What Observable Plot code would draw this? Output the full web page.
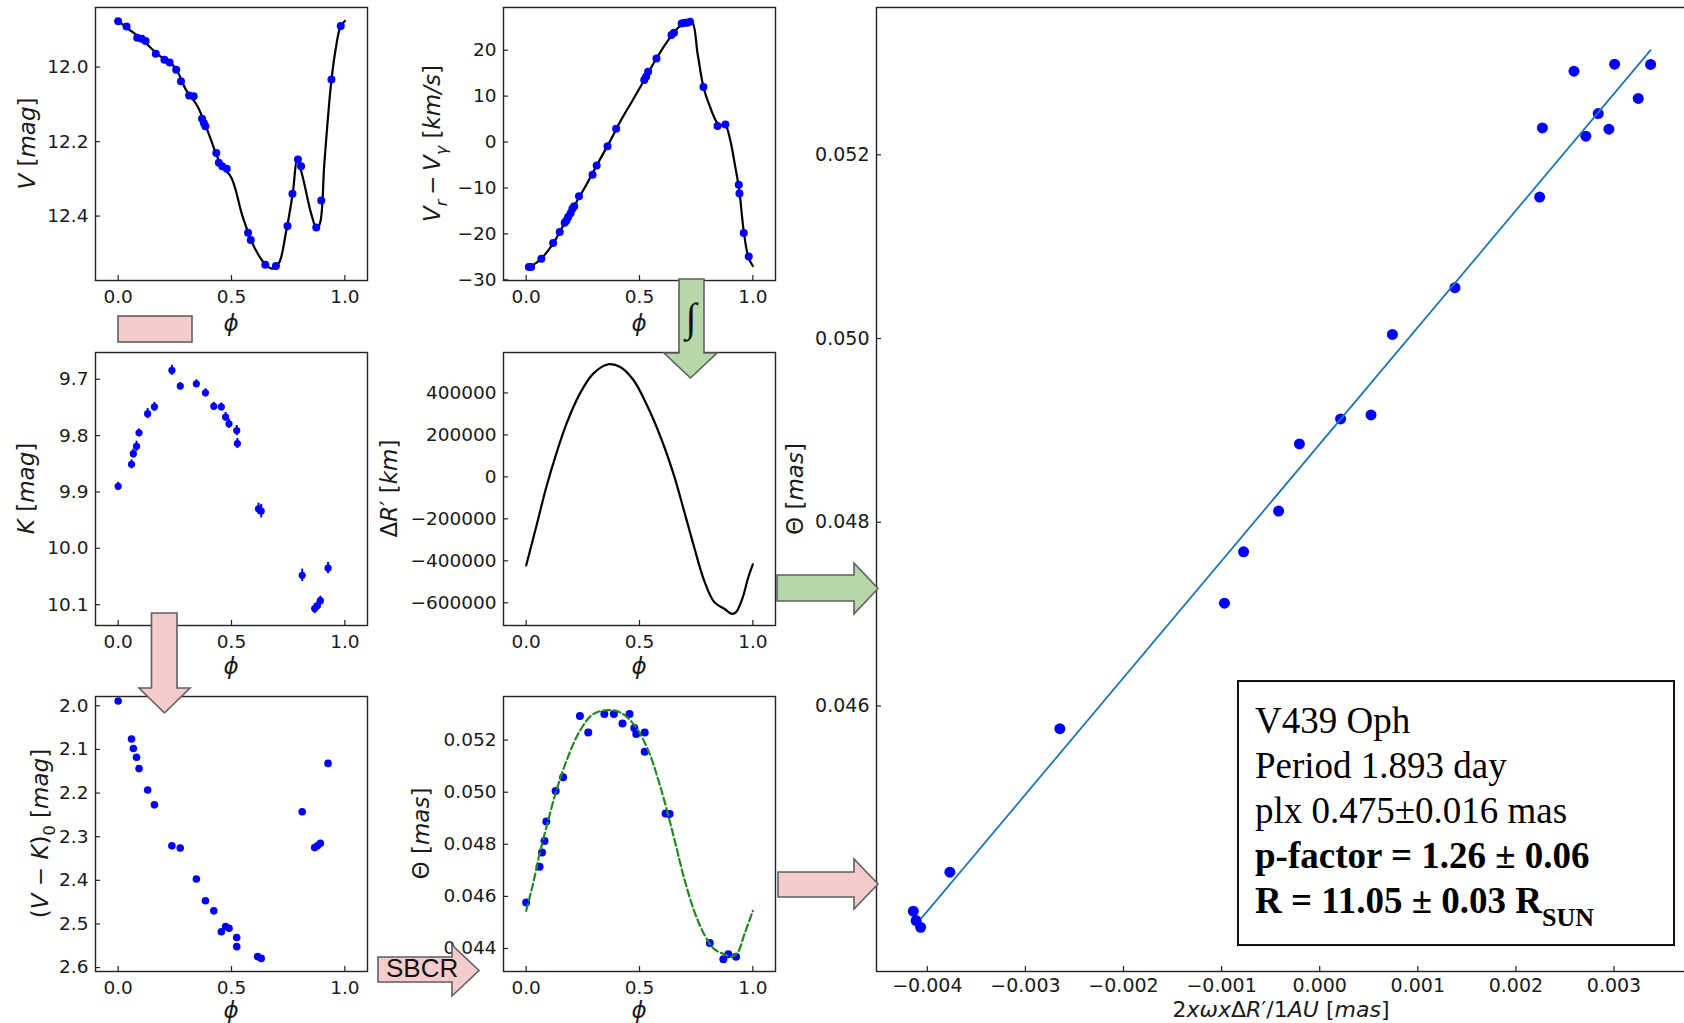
<!DOCTYPE html>
<html><head><meta charset="utf-8">
<script src="https://cdn.jsdelivr.net/npm/d3@7"></script>
<script src="https://cdn.jsdelivr.net/npm/@observablehq/plot@0.6"></script>
<style>
html,body{margin:0;padding:0;background:#fff;overflow:hidden;}
#fig{position:relative;width:1684px;height:1023px;overflow:hidden;background:#fff;}
#fig svg{position:absolute;max-width:none;}
</style></head><body><div id="fig"></div>
<script>
// ---------- data ----------
// V light curve
const phaseV = [0.000,0.037,0.084,0.104,0.121,0.166,0.204,0.227,0.256,0.277,0.313,0.333,0.370,0.378,0.385,0.433,0.444,0.459,0.479,0.573,0.585,0.649,0.696,0.747,0.769,0.793,0.807,0.874,0.896,0.941,0.982];
const magV = [11.877,11.891,11.921,11.924,11.930,11.964,11.980,11.988,12.007,12.038,12.076,12.078,12.139,12.150,12.159,12.231,12.257,12.266,12.273,12.445,12.464,12.531,12.534,12.427,12.340,12.248,12.266,12.431,12.358,12.033,11.890];
const phaseVfit = [0,0.05,0.1,0.15,0.2,0.25,0.3,0.35,0.4,0.45,0.5,0.55,0.6,0.65,0.68,0.71,0.74,0.77,0.79,0.81,0.85,0.875,0.89,0.91,0.94,0.96,0.98,1.0];
const magVfit = [11.876,11.900,11.922,11.952,11.978,12.000,12.062,12.105,12.180,12.258,12.298,12.403,12.483,12.530,12.541,12.525,12.445,12.340,12.250,12.285,12.390,12.432,12.420,12.255,12.040,11.950,11.893,11.876];
// radial velocity
const phaseVr = [0.012,0.022,0.067,0.119,0.148,0.170,0.178,0.185,0.196,0.204,0.212,0.233,0.293,0.311,0.359,0.397,0.521,0.529,0.538,0.575,0.641,0.652,0.686,0.699,0.711,0.723,0.782,0.844,0.879,0.938,0.941,0.960,0.982];
const vr = [-27.2,-27.2,-25.4,-22.0,-19.6,-17.6,-17.1,-16.3,-15.5,-14.5,-14.0,-11.8,-7.1,-5.1,-0.9,2.9,13.5,14.2,15.3,18.2,23.3,23.8,25.8,26.0,26.0,26.2,12.0,3.5,3.8,-9.3,-11.2,-19.8,-24.9];
const phaseVrFit = [0,0.03,0.07,0.12,0.17,0.22,0.27,0.32,0.37,0.42,0.47,0.52,0.57,0.62,0.67,0.70,0.73,0.757,0.782,0.81,0.84,0.86,0.88,0.90,0.92,0.94,0.96,0.98,1.0];
const vrFit = [-27.3,-26.8,-25.2,-22.0,-17.6,-13.2,-8.9,-4.3,0.2,4.9,9.1,13.4,17.8,21.7,24.9,26.0,26.4,19.0,12.0,7.8,4.4,3.6,3.5,0.5,-4.7,-10.5,-19.5,-25.0,-27.0];
// K light curve
const phaseK = [0.000,0.059,0.067,0.081,0.092,0.130,0.160,0.237,0.274,0.345,0.385,0.422,0.455,0.474,0.489,0.523,0.526,0.619,0.631,0.812,0.867,0.879,0.892,0.926];
const magK = [9.890,9.851,9.832,9.819,9.795,9.761,9.749,9.684,9.712,9.708,9.724,9.748,9.749,9.767,9.779,9.791,9.814,9.930,9.934,10.048,10.107,10.102,10.093,10.035];
const errK = [0.007,0.008,0.008,0.009,0.007,0.009,0.008,0.009,0.006,0.007,0.007,0.007,0.007,0.008,0.008,0.009,0.009,0.010,0.012,0.011,0.009,0.008,0.008,0.010];
// integrated radius variation
const phaseDR = [0.0,0.044,0.089,0.133,0.178,0.237,0.296,0.363,0.415,0.474,0.533,0.593,0.652,0.696,0.741,0.785,0.830,0.874,0.907,0.926,0.956,0.978,1.0];
const dR = [-421900,-239000,-48300,110700,253700,396800,492200,536700,524000,460400,341200,190100,7300,-159600,-334500,-493500,-596800,-628600,-652500,-644500,-573000,-485500,-417000];
// colour index
const phaseVK = [0.000,0.059,0.067,0.081,0.092,0.130,0.160,0.237,0.274,0.345,0.385,0.422,0.455,0.474,0.489,0.523,0.523,0.615,0.631,0.812,0.867,0.879,0.892,0.926];
const vk = [1.989,2.076,2.098,2.118,2.144,2.193,2.227,2.321,2.326,2.397,2.447,2.470,2.518,2.506,2.510,2.531,2.552,2.575,2.579,2.243,2.325,2.321,2.315,2.132];
// angular diameter
const phaseTh = [0.000,0.059,0.070,0.081,0.089,0.130,0.163,0.237,0.274,0.345,0.387,0.425,0.456,0.477,0.486,0.523,0.523,0.615,0.633,0.810,0.870,0.892,0.926];
const theta = [0.04577,0.04714,0.04769,0.04813,0.04888,0.05005,0.05057,0.05293,0.05229,0.05300,0.05300,0.05264,0.05300,0.05246,0.05223,0.05229,0.05155,0.04918,0.04916,0.04421,0.04359,0.04378,0.04368];
const phaseThFit = [0.0,0.030,0.059,0.089,0.133,0.178,0.237,0.296,0.363,0.415,0.474,0.533,0.593,0.652,0.696,0.741,0.785,0.830,0.874,0.907,0.933,0.963,1.0];
const thetaFit = [0.045446,0.046470,0.047622,0.048646,0.050054,0.051206,0.052358,0.052998,0.053152,0.053062,0.052614,0.051718,0.050182,0.048262,0.046726,0.045446,0.044550,0.043974,0.043782,0.043680,0.043846,0.044550,0.045446];
// Theta vs 2 x omega x dR / 1AU
const xG = [0.003373,0.003006,0.002592,0.003247,0.002839,0.002270,0.002948,0.002713,0.002242,0.001379,0.000741,0.000213,0.000523,-0.000207,-0.000419,-0.000776,-0.000971,-0.002649,-0.003770,-0.004143,-0.004114,-0.004068];
const yG = [0.052983,0.052986,0.052910,0.052613,0.052449,0.052292,0.052278,0.052202,0.051540,0.050553,0.050044,0.049125,0.049168,0.048852,0.048122,0.047678,0.047119,0.045753,0.044191,0.043766,0.043664,0.043591];
const fitGx = [-0.004057, 0.003373];
const fitGy = [0.043693, 0.053139];
// tick values
const phaseTicks = [0, 0.5, 1.0];
const vTicks = [12.0, 12.2, 12.4];
const vrTicks = [-30, -20, -10, 0, 10, 20];
const kTicks = [9.7, 9.8, 9.9, 10.0, 10.1];
const drTicks = [-600000, -400000, -200000, 0, 200000, 400000];
const vkTicks = [2.0, 2.1, 2.2, 2.3, 2.4, 2.5, 2.6];
const thTicks = [0.044, 0.046, 0.048, 0.050, 0.052];
const gxTicks = [-0.004, -0.003, -0.002, -0.001, 0.000, 0.001, 0.002, 0.003];
const gyTicks = [0.046, 0.048, 0.050, 0.052];
const infoLines = ["V439 Oph", "Period 1.893 day", "plx 0.475±0.016 mas", "p-factor = 1.26 ± 0.06", "R = 11.05 ± 0.03 R"];

// ---------- helpers ----------
const zip = (xs, ys, kx = "x", ky = "y") => xs.map((v, i) => ({[kx]: v, [ky]: ys[i]}));
const fig = document.getElementById("fig");
const INK = "#1a1a1a";
const BLUE = "#0000ff";

function panel(o) {
  const p = Plot.plot({
    width: o.ml + o.fw + o.mr, height: o.mt + o.fh + o.mb,
    marginLeft: o.ml, marginRight: o.mr, marginTop: o.mt, marginBottom: o.mb,
    x: {domain: o.xDomain, label: null},
    y: {domain: o.yDomain, label: null},
    style: {fontFamily: "DejaVu Sans", fontSize: o.fs + "px", color: INK, background: "transparent", overflow: "visible"},
    marks: [
      ...o.marks,
      Plot.frame({stroke: "#222", strokeWidth: 1.4}),
      Plot.tickX(o.xTicks, {x: d => d, insetTop: o.fh - 5, stroke: "#222", strokeWidth: 1.2}),
      Plot.tickY(o.yTicks, {y: d => d, insetRight: o.fw - 5, stroke: "#222", strokeWidth: 1.2}),
      Plot.axisX(o.xTicks, {tickFormat: o.xFmt, tickSize: 0, tickPadding: o.padX, label: null, fill: INK}),
      Plot.axisY(o.yTicks, {tickFormat: o.yFmt, tickSize: 0, tickPadding: o.padY, label: null, fill: INK})
    ]
  });
  p.style.left = (o.fx - o.ml) + "px";
  p.style.top = (o.fy - o.mt) + "px";
  fig.appendChild(p);
}
const f1 = d3.format(".1f"), fd = d3.format("d"), f3 = d3.format(".3f");
const phaseDom = [-0.1, 1.1];
const small = {fw: 272, mr: 8, mt: 7, mb: 45, fs: 18.5, padX: 9, padY: 7, xDomain: phaseDom, xTicks: phaseTicks, xFmt: f1};

// V
panel({...small, fx: 95, fy: 7, fh: 273, ml: 95, yDomain: [12.573, 11.840], yTicks: vTicks, yFmt: f1, marks: [
  Plot.line(zip(phaseVfit, magVfit), {x: "x", y: "y", stroke: "#000", strokeWidth: 2.2, curve: "catmull-rom"}),
  Plot.dot(zip(phaseV, magV), {x: "x", y: "y", r: 4, fill: BLUE})
]});
// Vr
panel({...small, fx: 503, fy: 7, fh: 273, ml: 115, yDomain: [-30.15, 29.3], yTicks: vrTicks, yFmt: fd, marks: [
  Plot.line(zip(phaseVrFit, vrFit), {x: "x", y: "y", stroke: "#000", strokeWidth: 2.2, curve: "catmull-rom"}),
  Plot.dot(zip(phaseVr, vr), {x: "x", y: "y", r: 4, fill: BLUE})
]});
// K
const kData = phaseK.map((p, i) => ({p, k: magK[i], e: errK[i]}));
panel({...small, fx: 95, fy: 352, fh: 273, ml: 95, yDomain: [10.137, 9.6525], yTicks: kTicks, yFmt: f1, marks: [
  Plot.ruleX(kData, {x: "p", y1: d => d.k - d.e, y2: d => d.k + d.e, stroke: BLUE, strokeWidth: 2}),
  Plot.dot(kData, {x: "p", y: "k", r: 3.6, fill: BLUE})
]});
// Delta R
panel({...small, fx: 503, fy: 352, fh: 273, ml: 115, yDomain: [-708300, 592748], yTicks: drTicks, yFmt: fd, marks: [
  Plot.line(zip(phaseDR, dR), {x: "x", y: "y", stroke: "#000", strokeWidth: 2.2, curve: "catmull-rom"})
]});
// V-K
panel({...small, fx: 95, fy: 696, fh: 275, ml: 95, mb: 52, yDomain: [2.609, 1.9787], yTicks: vkTicks, yFmt: f1, marks: [
  Plot.dot(zip(phaseVK, vk), {x: "x", y: "y", r: 3.8, fill: BLUE})
]});
// Theta
panel({...small, fx: 503, fy: 696, fh: 275, ml: 115, mb: 52, yDomain: [0.043117, 0.053674], yTicks: thTicks, yFmt: f3, marks: [
  Plot.dot(zip(phaseTh, theta), {x: "x", y: "y", r: 4, fill: BLUE}),
  Plot.line(zip(phaseThFit, thetaFit), {x: "x", y: "y", stroke: "#1f8a1f", strokeWidth: 2.2, strokeDasharray: "7,3.5", curve: "catmull-rom"})
]});
// big panel
panel({fx: 876, fy: 7, fw: 810, fh: 964, ml: 80, mr: 0, mt: 7, mb: 40, fs: 19, padX: 7, padY: 7,
  xDomain: [-0.004518, 0.003739], yDomain: [0.04311, 0.053603], xTicks: gxTicks, yTicks: gyTicks, xFmt: f3, yFmt: f3, marks: [
  Plot.dot(zip(xG, yG), {x: "x", y: "y", r: 5.5, fill: BLUE}),
  Plot.line(zip(fitGx, fitGy), {x: "x", y: "y", stroke: "#1f77b4", strokeWidth: 1.8})
]});

// ---------- overlay: labels, arrows, text box ----------
const ov = d3.select(fig).append("svg").attr("width", 1684).attr("height", 1023)
  .style("left", "0px").style("top", "0px").style("pointer-events", "none");

function rich(parts, x, y, {size = 23, rotate = false, anchor = "middle", baseline = "central", family = "DejaVu Sans"} = {}) {
  const t = ov.append("text")
    .attr("transform", `translate(${x},${y})` + (rotate ? " rotate(-90)" : ""))
    .attr("text-anchor", anchor).attr("dominant-baseline", baseline)
    .attr("font-family", family).attr("font-size", size).attr("fill", INK);
  parts.forEach(p => {
    const s = t.append("tspan").text(p.t);
    if (p.i) s.attr("font-style", "italic");
    if (p.sub) s.attr("baseline-shift", "sub").attr("font-size", "70%");
  });
  return t;
}
// y labels
rich([{t: "V", i: 1}, {t: " ["}, {t: "mag", i: 1}, {t: "]"}], 27, 143.5, {rotate: true});
rich([{t: "V", i: 1}, {t: "r", i: 1, sub: 1}, {t: "\u2009\u2212\u2009"}, {t: "V", i: 1}, {t: "γ", i: 1, sub: 1}, {t: " ["}, {t: "km/s", i: 1}, {t: "]"}], 432, 143.5, {rotate: true});
rich([{t: "K", i: 1}, {t: " ["}, {t: "mag", i: 1}, {t: "]"}], 26, 488.5, {rotate: true});
rich([{t: "Δ"}, {t: "R", i: 1}, {t: "′"}, {t: " ["}, {t: "km", i: 1}, {t: "]"}], 389, 488.5, {rotate: true});
rich([{t: "("}, {t: "V", i: 1}, {t: " \u2212 "}, {t: "K", i: 1}, {t: ")"}, {t: "0", sub: 1}, {t: " ["}, {t: "mag", i: 1}, {t: "]"}], 40, 833.5, {rotate: true});
rich([{t: "Θ"}, {t: " ["}, {t: "mas", i: 1}, {t: "]"}], 421, 833.5, {rotate: true});
rich([{t: "Θ"}, {t: " ["}, {t: "mas", i: 1}, {t: "]"}], 795, 489, {rotate: true});
// x labels
[[231, 323], [639, 323], [231, 666], [639, 666], [231, 1010], [639, 1010]].forEach(([x, y]) =>
  rich([{t: "ϕ", i: 1}], x, y));
rich([{t: "2"}, {t: "xωx", i: 1}, {t: "Δ"}, {t: "R", i: 1}, {t: "′/1"}, {t: "AU", i: 1}, {t: " ["}, {t: "mas", i: 1}, {t: "]"}], 1281, 1017, {size: 22, baseline: "auto"});

// arrows
const PINK = "#f4cccc", GREEN = "#b6d7a8", EDGE = "#5f5f5f";
function poly(pts, fill) {
  ov.append("polygon").attr("points", pts.map(p => p.join(",")).join(" "))
    .attr("fill", fill).attr("stroke", EDGE).attr("stroke-width", 1.6).attr("stroke-linejoin", "miter");
}
ov.append("rect").attr("x", 118).attr("y", 316).attr("width", 74).attr("height", 26)
  .attr("fill", PINK).attr("stroke", EDGE).attr("stroke-width", 1.6);
poly([[151.5, 613], [177, 613], [177, 688], [190, 688], [164.5, 713], [139, 688], [151.5, 688]], PINK);
poly([[679, 279], [704, 279], [704, 353], [717, 353], [690.5, 378], [664, 353], [679, 353]], GREEN);
poly([[777, 575], [854, 575], [854, 563], [878, 588.5], [854, 614], [854, 601], [777, 601]], GREEN);
poly([[778, 872], [854, 872], [854, 859], [878, 884], [854, 909], [854, 897], [778, 897]], PINK);
poly([[378, 957], [452, 957], [452, 945], [479, 970.5], [452, 996], [452, 982], [378, 982]], PINK);
ov.append("text").attr("x", 386).attr("y", 977).attr("font-family", "Liberation Sans").attr("font-size", 26)
  .attr("fill", "#111").text("SBCR");
ov.append("text").attr("x", 691).attr("y", 317).attr("text-anchor", "middle").attr("dominant-baseline", "central")
  .attr("font-family", "Liberation Serif").attr("font-size", 40).attr("fill", "#111").text("∫");

// info box
ov.append("rect").attr("x", 1238).attr("y", 681).attr("width", 436).attr("height", 264)
  .attr("fill", "#fff").attr("stroke", "#111").attr("stroke-width", 2);
infoLines.forEach((s, i) => {
  const t = ov.append("text").attr("x", 1255).attr("y", 733 + 45 * i)
    .attr("font-family", "Liberation Serif").attr("font-size", 37).attr("fill", "#000")
    .attr("font-weight", i >= 3 ? "bold" : "normal").text(s);
  if (i === 4) t.append("tspan").attr("dy", 13).attr("font-size", 26).text("SUN");
});
</script></body></html>
